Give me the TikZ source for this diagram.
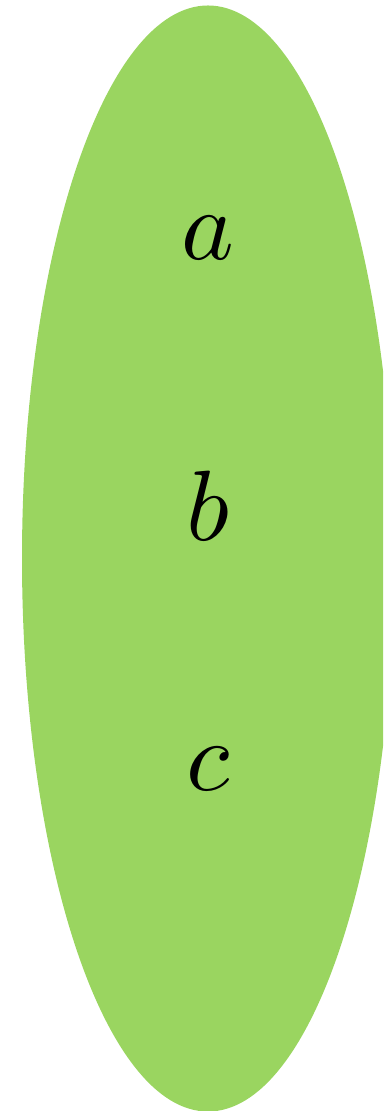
\documentclass[tikz,border=0pt]{standalone}
\definecolor{leaf}{RGB}{154,213,96}
\begin{document}
\begin{tikzpicture}[x=0.1pt,y=-0.1pt,
  lbl/.style={anchor=base,inner sep=0pt,font=\fontsize{10}{12}\selectfont}]
\useasboundingbox (0,0) rectangle (383,1111);
\clip (0,0) rectangle (383,1111);
\fill[leaf] (208,558.5) ellipse [x radius=186, y radius=553];
\node[lbl] (a) at (208,260) {$a$};
\node[lbl] (b) at (208,541) {$b$};
\node[lbl] (c) at (208,791) {$c$};
\end{tikzpicture}
\end{document}
